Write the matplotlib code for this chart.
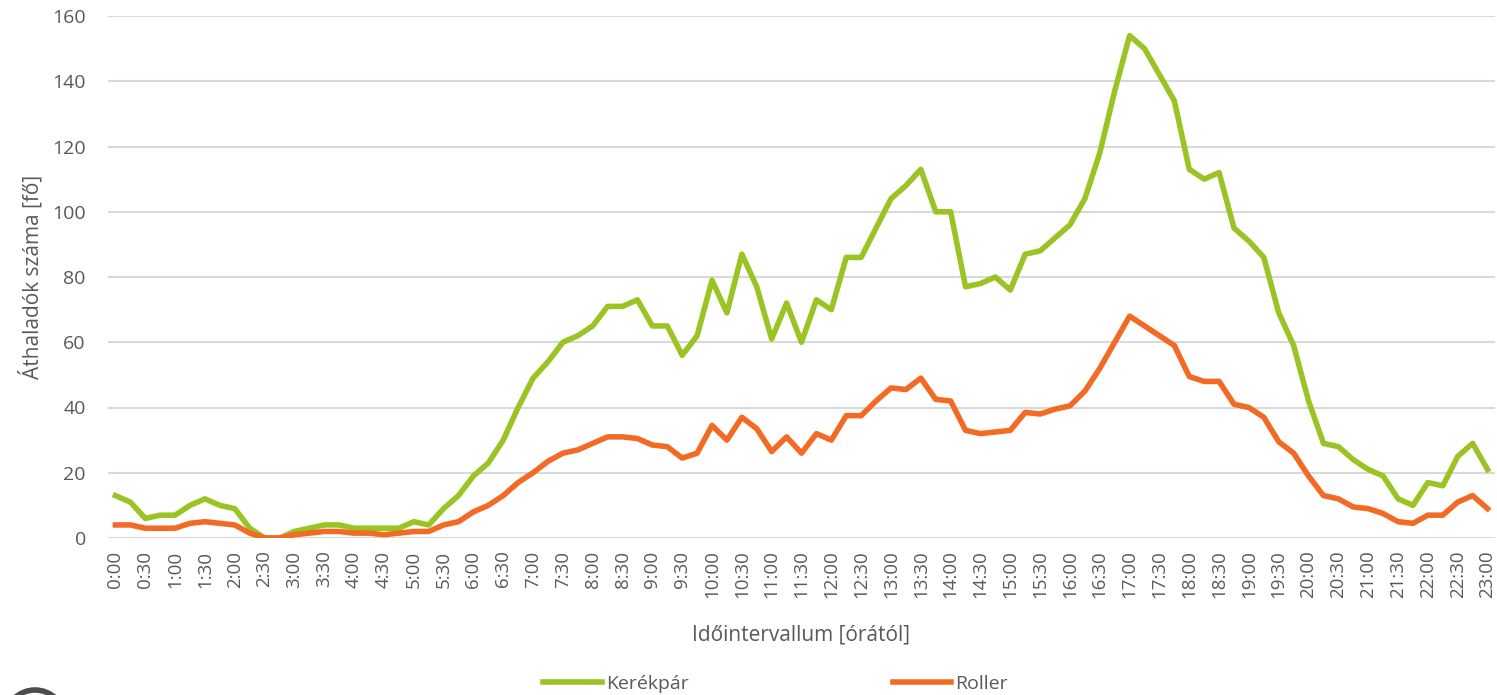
import matplotlib.pyplot as plt
from matplotlib.patches import Circle

# 15-minute intervals, 0:00 .. 23:00
times = [f"{m // 60}:{m % 60:02d}" for m in range(0, 23 * 60 + 1, 15)]

kerekpar = [13, 11, 6, 7, 7, 10, 12, 10, 9, 3, 0, 0, 2, 3, 4, 4, 3, 3, 3, 3,
            5, 4, 9, 13, 19, 23, 30, 40, 49, 54, 60, 62, 65, 71, 71, 73, 65, 65, 56, 62,
            79, 69, 87, 77, 61, 72, 60, 73, 70, 86, 86, 95, 104, 108, 113, 100, 100, 77, 78, 80,
            76, 87, 88, 92, 96, 104, 118, 137, 154, 150, 142, 134, 113, 110, 112, 95, 91, 86, 69, 59,
            42, 29, 28, 24, 21, 19, 12, 10, 17, 16, 25, 29, 21]

roller = [4, 4, 3, 3, 3, 4.5, 5, 4.5, 4, 1.5, 0, 0, 1, 1.5, 2, 2, 1.5, 1.5, 1, 1.5,
          2, 2, 4, 5, 8, 10, 13, 17, 20, 23.5, 26, 27, 29, 31, 31, 30.5, 28.5, 28, 24.5, 26,
          34.5, 30, 37, 33.5, 26.5, 31, 26, 32, 30, 37.5, 37.5, 42, 46, 45.5, 49, 42.5, 42, 33, 32, 32.5,
          33, 38.5, 38, 39.5, 40.5, 45, 52, 60, 68, 65, 62, 59, 49.5, 48, 48, 41, 40, 37, 29.5, 26,
          19, 13, 12, 9.5, 9, 7.5, 5, 4.5, 7, 7, 11, 13, 9]

green = "#9AC423"
orange = "#F26A24"
txt = "#595959"

plt.rcParams["font.family"] = ["Open Sans", "DejaVu Sans"]

fig = plt.figure(figsize=(14.97, 6.95), dpi=100)
ax = fig.add_axes([108 / 1497, 1 - 538 / 695, (1495 - 108) / 1497, (538 - 16) / 695])

x = list(range(len(times)))
ax.plot(x, kerekpar, color=green, lw=4, label="Kerékpár", solid_joinstyle="round")
ax.plot(x, roller, color=orange, lw=4, label="Roller", solid_joinstyle="round")

ax.set_xlim(-0.5, len(times) - 0.5)
ax.set_ylim(0, 160)
ax.set_yticks(range(0, 161, 20))
ax.set_xticks(x[::2])
ax.set_xticklabels(times[::2], rotation=90)
ax.tick_params(axis="x", length=0, pad=9, labelsize=13.5, colors=txt)
ax.tick_params(axis="y", length=0, pad=16, labelsize=14, colors=txt)

ax.grid(axis="y", color="#D9D9D9", lw=1.5)
ax.set_axisbelow(True)
for s in ax.spines.values():
    s.set_visible(False)

ax.set_ylabel("Áthaladók száma [fő]", fontsize=15, color=txt, labelpad=6)
ax.set_xlabel("Időintervallum [órától]", fontsize=15, color=txt, labelpad=19)

fig.legend(loc="center", bbox_to_anchor=(0.518, 0.016), ncol=2, frameon=False,
           fontsize=14, handlelength=3.0, handletextpad=0.2, columnspacing=10.5,
           labelcolor=txt)

# cropped logo ring at bottom left
fig.patches.append(Circle((0.35, -0.25), 0.3, transform=fig.dpi_scale_trans,
                          fill=False, lw=4, ec="#4D4D4D"))

fig.savefig("out.png", dpi=100)
